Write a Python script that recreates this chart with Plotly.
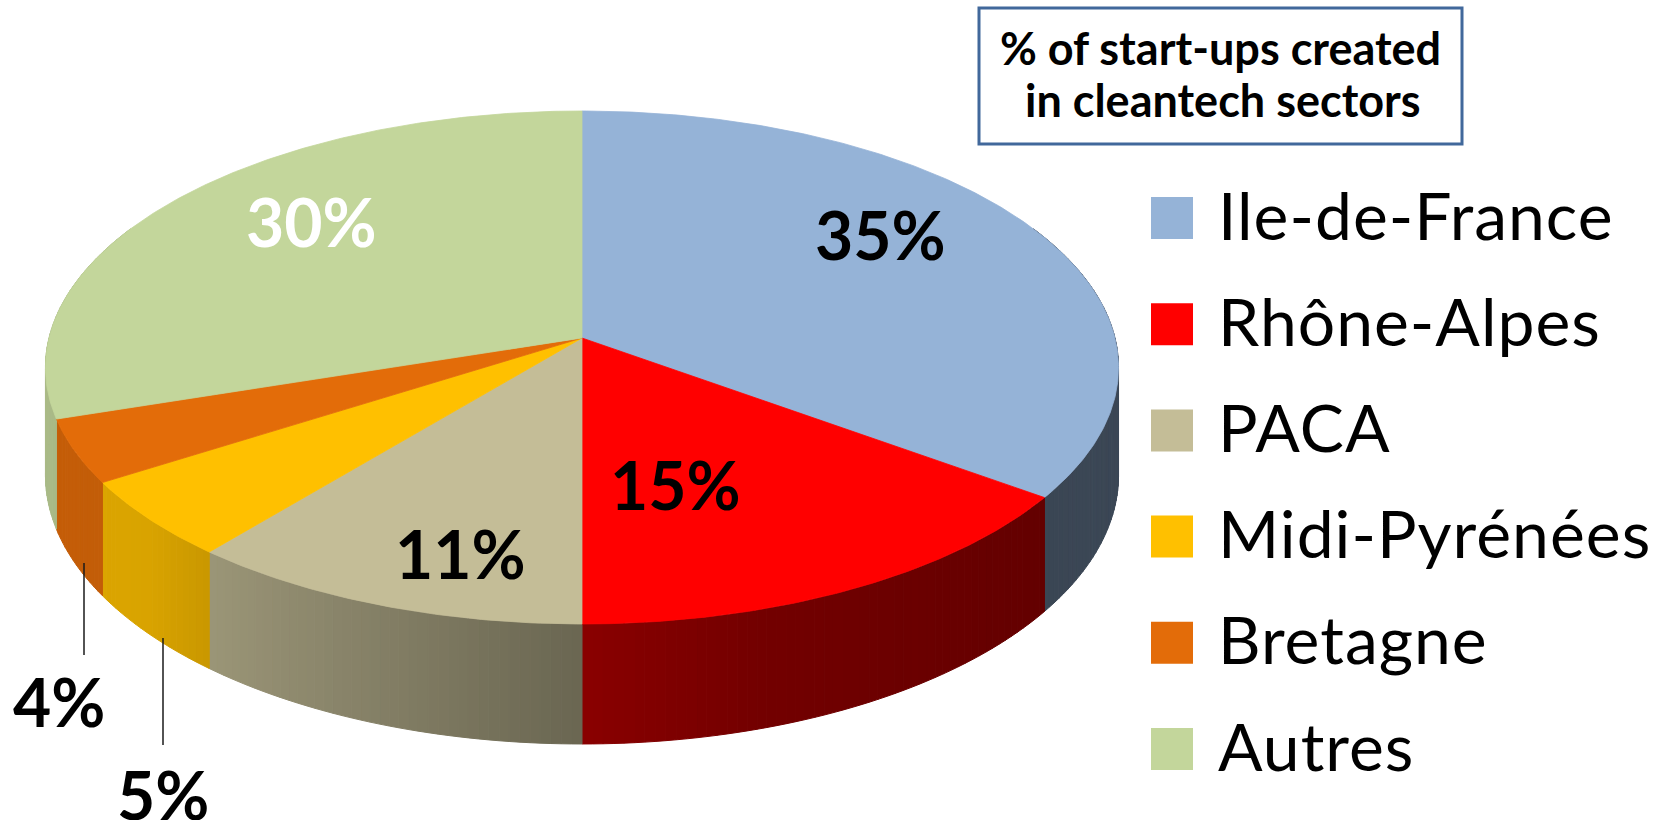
import numpy as np
import plotly.graph_objects as go

# ---------------- data ----------------
categories = ["Ile-de-France", "Rhône-Alpes", "PACA", "Midi-Pyrénées", "Bretagne", "Autres"]
values = [35, 15, 11, 5, 4, 30]
value_labels = ["35%", "15%", "11%", "5%", "4%", "30%"]
colors = ["#95B3D7", "#FF0000", "#C4BD97", "#FFC000", "#E36C09", "#C3D69B"]
title_lines = ["% of start-ups created", "in cleantech sectors"]

# ---------------- style / geometry (pixel space) ----------------
W, H = 1658, 820
CX, CY = 582, 338          # projected pie centre
K, SY, D = 4637.0, 2202.0, 8.7   # perspective projection constants
HK = 924.0                  # thickness constant
FONT = "Lato"

# label placement (pixel centres) and colours
label_pos = [(880, 234), (675, 484), (460, 553), (163, 794), (59, 701), (311, 221)]
label_col = ["black", "black", "black", "black", "black", "white"]
leader = {3: (163, 638, 745), 4: (84, 563, 655)}


def proj(theta, r=1.0):
    X = r * np.sin(theta)
    Z = r * np.cos(theta)
    den = D + Z
    return CX + X * K / den, CY - Z * SY / den, HK / den


def shade_factor(X):
    xs = [-1.0, -0.75, -0.64, 0.0, 0.3, 0.8, 1.0]
    fs = [0.87, 0.85, 0.79, 0.54, 0.45, 0.39, 0.40]
    return float(np.interp(X, xs, fs))


def shade(hexcol, f):
    h = hexcol.lstrip("#")
    r, g, b = (int(h[i:i + 2], 16) for i in (0, 2, 4))
    return "rgb(%d,%d,%d)" % (round(r * f), round(g * f), round(b * f))


fig = go.Figure()

total = float(sum(values))
bounds = np.concatenate([[0.0], np.cumsum(values)]) / total * 2 * np.pi

# ---- side walls ----
for i, col in enumerate(colors):
    a0, a1 = bounds[i], bounds[i + 1]
    n = max(2, int(np.ceil(np.degrees(a1 - a0) / 1.0)))
    edges = np.linspace(a0, a1, n + 1)
    for j in range(n):
        t0, t1 = edges[j], edges[j + 1]
        tm = 0.5 * (t0 + t1)
        if np.cos(tm) > 0.45:
            continue
        ts = np.linspace(t0, t1, 4)
        xt, yt, th = proj(ts)
        xs = list(xt) + list(xt[::-1]) + [xt[0]]
        ys = list(yt) + list((yt + th)[::-1]) + [yt[0]]
        c = shade(col, shade_factor(np.sin(tm)))
        fig.add_trace(go.Scatter(x=xs, y=ys, mode="lines", fill="toself",
                                 fillcolor=c, line=dict(color=c, width=1),
                                 hoverinfo="skip", showlegend=False))

# ---- top faces ----
for i, col in enumerate(colors):
    a0, a1 = bounds[i], bounds[i + 1]
    ts = np.linspace(a0, a1, max(30, int(np.degrees(a1 - a0) * 2)))
    xt, yt, _ = proj(ts)
    xs = [CX] + list(xt) + [CX]
    ys = [CY] + list(yt) + [CY]
    fig.add_trace(go.Scatter(x=xs, y=ys, mode="lines", fill="toself",
                             fillcolor=col, line=dict(color=col, width=0.8),
                             hoverinfo="skip", showlegend=False))

shapes = []
annotations = []

# ---- value labels ----
for i, txt in enumerate(value_labels):
    x, y = label_pos[i]
    annotations.append(dict(x=x, y=y, text=txt, showarrow=False,
                            xanchor="center", yanchor="middle",
                            font=dict(family=FONT, size=66, color=label_col[i], weight="bold")))
for i, (lx, y0, y1) in leader.items():
    shapes.append(dict(type="line", x0=lx, x1=lx, y0=y0, y1=y1,
                       line=dict(color="#1a1a1a", width=1.5)))

# ---- legend ----
LEG_X0, LEG_X1, LEG_Y0, LEG_DY, LEG_H = 1151, 1193, 218, 106.2, 42
for i, (cat, col) in enumerate(zip(categories, colors)):
    yc = LEG_Y0 + i * LEG_DY
    shapes.append(dict(type="rect", x0=LEG_X0, x1=LEG_X1, y0=yc - LEG_H / 2, y1=yc + LEG_H / 2,
                       fillcolor=col, line=dict(width=0)))
    annotations.append(dict(x=1216, y=yc - 4, xanchor="left", yanchor="middle",
                            text='<span style="letter-spacing:1px">%s</span>' % cat,
                            showarrow=False,
                            font=dict(family=FONT, size=66, color="black")))

# ---- title box ----
shapes.append(dict(type="rect", x0=979, x1=1462, y0=8, y1=144,
                   line=dict(color="#41689B", width=3), fillcolor="white"))
for txt, (x, y) in zip(title_lines, [(1220, 48), (1223, 100)]):
    annotations.append(dict(x=x, y=y, text=txt, showarrow=False,
                            xanchor="center", yanchor="middle",
                            font=dict(family=FONT, size=45, color="black", weight="bold")))

fig.update_layout(
    width=W, height=H, margin=dict(l=0, r=0, t=0, b=0),
    paper_bgcolor="white", plot_bgcolor="white", showlegend=False,
    xaxis=dict(range=[0, W], visible=False, fixedrange=True),
    yaxis=dict(range=[H, 0], visible=False, fixedrange=True),
    shapes=shapes, annotations=annotations,
)

fig.write_html("out.html", config={"displayModeBar": False},
               post_script="document.body.style.margin='0';document.body.style.overflow='hidden';")
